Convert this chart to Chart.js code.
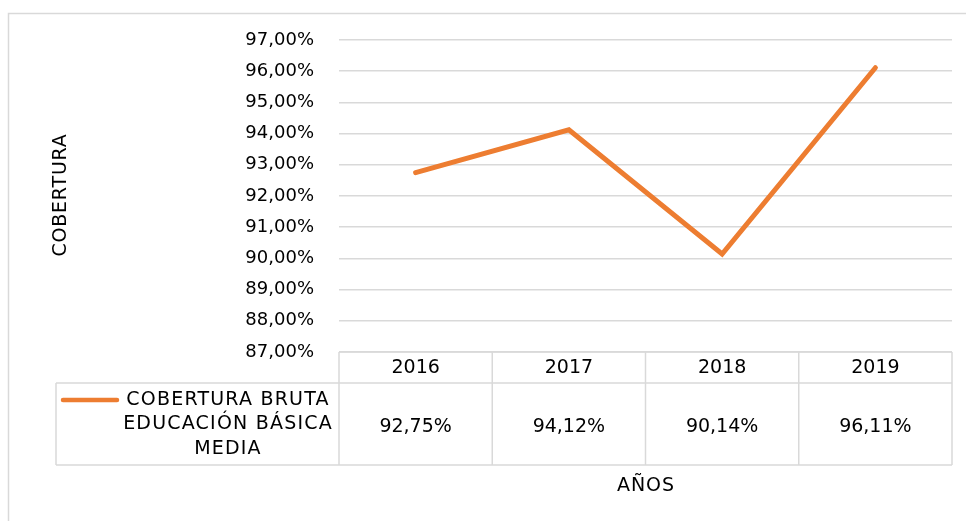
<!DOCTYPE html>
<html><head><meta charset="utf-8">
<script src="https://cdn.jsdelivr.net/npm/chart.js@4"></script>
<style>html,body{margin:0;padding:0;background:#fff;}#wrap{position:relative;width:966px;height:521px;}</style>
</head><body><div id="wrap"><canvas id="c" width="966" height="521"></canvas></div>
<script>
const categories = ["2016", "2017", "2018", "2019"];
const seriesName = ["COBERTURA BRUTA", "EDUCACIÓN BÁSICA", "MEDIA"];
const values = [92.75, 94.12, 90.14, 96.11];
const yTicks = [87, 88, 89, 90, 91, 92, 93, 94, 95, 96, 97];
const yTitle = "COBERTURA";
const xTitle = "AÑOS";

const FONT = '"DejaVu Sans", sans-serif';
const fmt = v => v.toFixed(2).replace('.', ',') + '%';
const ORANGE = '#ED7D31';
const GRID = '#d9d9d9';

const tablePlugin = {
  id: 'tablePlugin',
  afterDraw(chart) {
    const ctx = chart.ctx;
    const x = chart.scales.x, ca = chart.chartArea;
    const n = categories.length;
    const half = (x.getPixelForValue(1) - x.getPixelForValue(0)) / 2;
    const edges = [];
    for (let i = 0; i < n; i++) edges.push(x.getPixelForValue(i) - half);
    edges.push(x.getPixelForValue(n - 1) + half);
    const top = ca.bottom, r1 = top + 31, r2 = top + 113;
    const labelLeft = 56;
    ctx.save();
    ctx.strokeStyle = GRID; ctx.lineWidth = 1.5;
    ctx.beginPath(); ctx.moveTo(8.5, 530); ctx.lineTo(8.5, 13.5); ctx.lineTo(970, 13.5); ctx.stroke();
    ctx.beginPath();
    edges.forEach(e => { ctx.moveTo(e, top); ctx.lineTo(e, r2); });
    ctx.moveTo(edges[0], top); ctx.lineTo(edges[n], top);
    ctx.moveTo(labelLeft, r1); ctx.lineTo(edges[n], r1);
    ctx.moveTo(labelLeft, r2); ctx.lineTo(edges[n], r2);
    ctx.moveTo(labelLeft, r1); ctx.lineTo(labelLeft, r2);
    ctx.stroke();
    ctx.fillStyle = '#000';
    ctx.font = '19px ' + FONT;
    ctx.textAlign = 'center'; ctx.textBaseline = 'middle';
    for (let i = 0; i < n; i++) {
      const cx = x.getPixelForValue(i);
      ctx.fillText(categories[i], cx, top + 16);
      ctx.fillText(fmt(values[i]), cx, top + 75);
    }
    ctx.letterSpacing = '1.2px';
    seriesName.forEach((s, k) => ctx.fillText(s, 228, top + 48 + k * 24.5));
    ctx.letterSpacing = '1px';
    ctx.fillText(xTitle, 646, 486);
    ctx.letterSpacing = '0.8px';
    ctx.strokeStyle = ORANGE; ctx.lineWidth = 4.5; ctx.lineCap = 'round';
    ctx.beginPath(); ctx.moveTo(63, top + 48); ctx.lineTo(117, top + 48); ctx.stroke();
    ctx.translate(61, 195); ctx.rotate(-Math.PI / 2);
    ctx.fillText(yTitle, 0, 0);
    ctx.restore();
  }
};

new Chart(document.getElementById('c'), {
  type: 'line',
  data: { labels: categories, datasets: [{ label: seriesName.join(' '), data: values, borderColor: ORANGE, borderWidth: 5, pointRadius: 0, tension: 0, borderCapStyle: 'round', borderJoinStyle: 'miter' }] },
  options: {
    responsive: false, animation: false, devicePixelRatio: 1,
    layout: { padding: { left: 0, top: 40, right: 14, bottom: 169 } },
    plugins: { legend: { display: false }, tooltip: { enabled: false } },
    scales: {
      x: { type: 'category', offset: true, display: false },
      y: {
        min: 87, max: 97,
        afterFit(s) { s.width = 339; },
        afterBuildTicks(s) { s.ticks = yTicks.map(v => ({ value: v })); },
        border: { display: false },
        grid: { color: GRID, lineWidth: 1.5, drawTicks: false },
        ticks: { padding: 25, color: '#000', font: { family: FONT, size: 18 }, callback: v => fmt(v) }
      }
    }
  },
  plugins: [tablePlugin]
});
</script></body></html>
